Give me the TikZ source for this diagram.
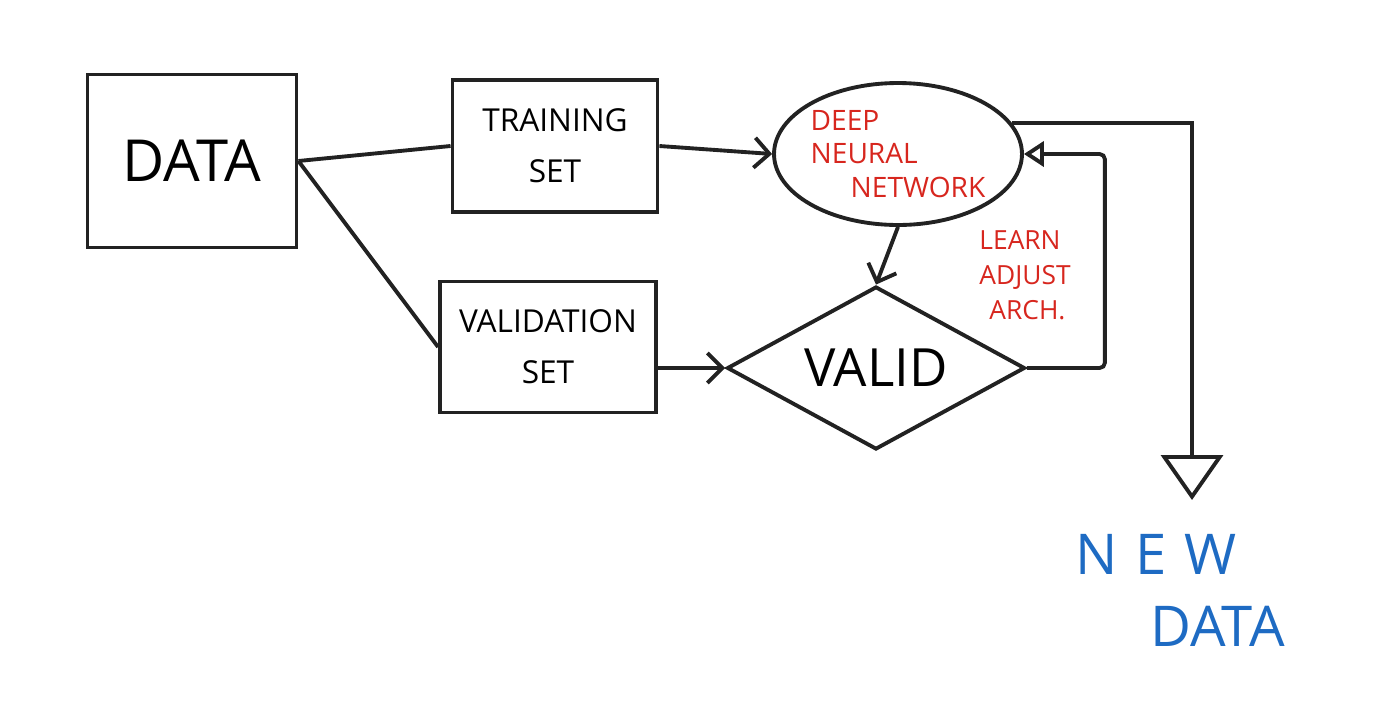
\documentclass[tikz,border=0pt]{standalone}
\usepackage{fontspec}
\setmainfont{Open Sans}
\usetikzlibrary{arrows.meta,shapes.geometric}
\definecolor{skInk}{HTML}{222222}
\definecolor{skRed}{HTML}{D7261E}
\definecolor{skBlue}{HTML}{1E6BC3}
\tikzset{
  sketchbox/.style={
    draw=skInk,
    line width=2.2pt,
    align=center,
    inner sep=0pt
  },
  netnode/.style={
    ellipse,
    draw=skInk,
    line width=2.2pt,
    align=left,
    inner sep=0pt,
    text=skRed,
    font=\fontsize{16}{19}\selectfont
  },
  checknode/.style={
    diamond,
    draw=skInk,
    line width=2.2pt,
    aspect=1.83,
    inner sep=0pt,
    font=\fontsize{30}{34}\selectfont
  },
  split/.style={
    line width=2.2pt,
    draw=skInk
  },
  feed/.style={
    -{Straight Barb[length=3mm,width=6mm]},
    line width=2.2pt,
    draw=skInk
  },
  loopback/.style={
    -{Triangle[open,length=4mm,width=5mm]},
    line width=2.2pt,
    draw=skInk,
    rounded corners=3pt
  },
  output/.style={
    -{Triangle[open,length=9mm,width=12.4mm,line width=2.2pt]},
    line width=2.2pt,
    draw=skInk
  }
}
\begin{document}
\begin{tikzpicture}[x=0.02cm,y=-0.02cm]

\useasboundingbox (0,0) rectangle (1400,704);

\node[sketchbox, minimum width=4.18cm, minimum height=3.46cm, font=\fontsize{33}{36}\selectfont] (data) at (192,161) {DATA};
\node[sketchbox, minimum width=4.1cm, minimum height=2.64cm, font=\fontsize{18}{29}\selectfont] (train) at (555,146) {TRAINING\\SET};
\node[sketchbox, minimum width=4.32cm, minimum height=2.62cm, font=\fontsize{18}{29}\selectfont] (valid) at (548,347) {VALIDATION\\SET};

\node[netnode, minimum width=4.96cm, minimum height=2.84cm] (dnn) at (898,154) {DEEP\\NEURAL\\\hspace*{0.8cm}NETWORK};
\node[checknode, minimum width=5.96cm, minimum height=3.26cm] (check) at (876,368) {VALID};

\node[text=skRed, align=left, font=\fontsize{15}{20}\selectfont] (learn) at (1025,275) {LEARN\\ADJUST\\\hspace*{0.2cm}ARCH.};
\node[text=skBlue, align=left, font=\fontsize{32}{41}\selectfont] (newdata) at (1180,590) {N\hspace{0.35cm}E\hspace{0.35cm}W\\\hspace*{1.5cm}DATA};

\coordinate (drop) at (1192,500);

\draw[split] (data.east) -- (train.west);
\draw[split] (data.east) -- (valid.west);
\draw[feed] (train.east) -- (dnn.west);
\draw[feed] (valid.east |- check.west) -- (check.west);
\draw[feed] (dnn.south) -- (check.north);
\draw[loopback] (check.east) -- ++(78,0) |- (dnn.east);
\draw[output] (dnn.15) -- (dnn.15 -| drop) -- (drop);

\end{tikzpicture}
\end{document}
